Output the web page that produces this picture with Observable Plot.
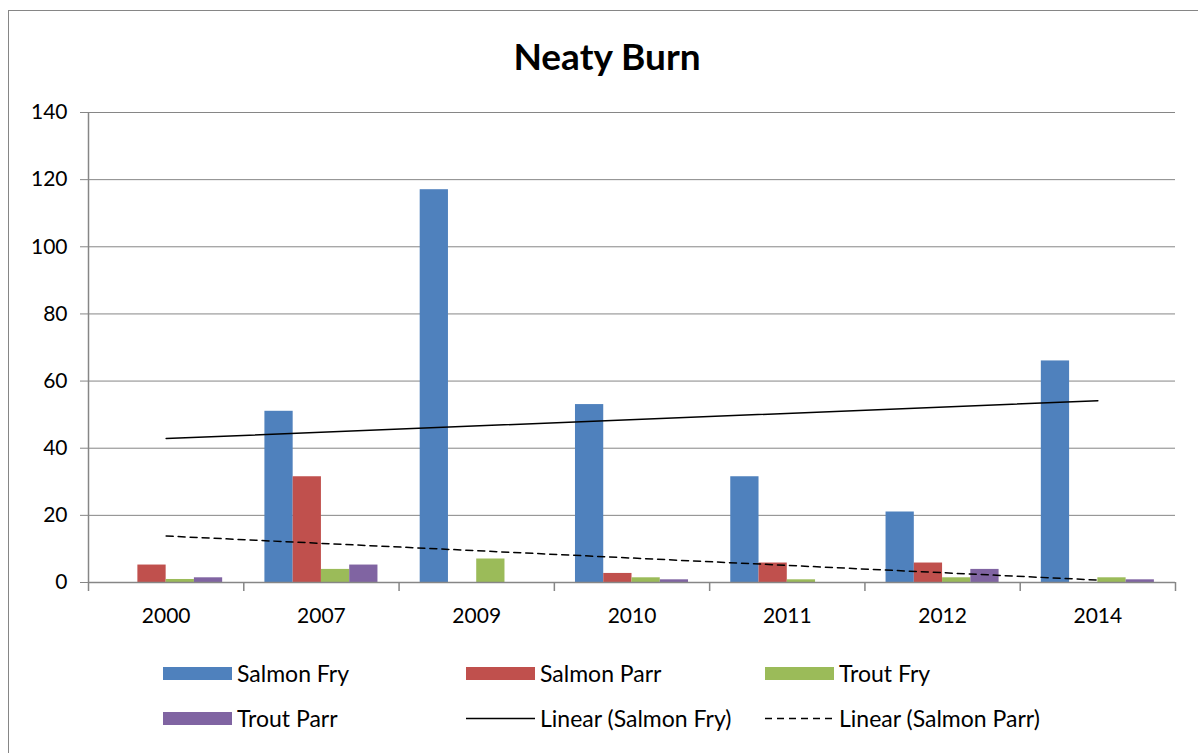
<!DOCTYPE html>
<html>
<head>
<meta charset="utf-8">
<script src="https://cdn.jsdelivr.net/npm/d3@7"></script>
<script src="https://cdn.jsdelivr.net/npm/@observablehq/plot@0.6"></script>
<style>
  html, body { margin: 0; padding: 0; background: #fff; }
  #wrap { position: relative; width: 1198px; height: 753px; overflow: hidden; font-family: Lato, "Open Sans", sans-serif; }
  #frame { position: absolute; left: 8px; top: 10px; width: 1200px; height: 760px; border: 1px solid #868686; box-sizing: border-box; }
  #title { position: absolute; left: 0; top: 33px; width: 1214px; text-align: center; font-weight: bold; font-size: 37px; color: #000; }
  #chart { position: absolute; left: 0; top: 0; }
  .leg { position: absolute; font-size: 23px; color: #000; display: flex; align-items: center; white-space: nowrap; }
  .sw { display: inline-block; width: 69px; height: 13px; margin-right: 5px; }
  .leg svg { margin-right: 5px; }
</style>
</head>
<body>
<div id="wrap">
  <div id="frame"></div>
  <div id="title">Neaty Burn</div>
  <div id="chart"></div>
  <div id="legend"></div>
</div>
<script>
const years = ["2000", "2007", "2009", "2010", "2011", "2012", "2014"];
const series = ["Salmon Fry", "Salmon Parr", "Trout Fry", "Trout Parr"];
const colors = ["#4F81BD", "#C0504D", "#9BBB59", "#8064A2"];
const salmonFry  = [0, 51, 117, 53, 31.5, 21, 66];
const salmonParr = [5.2, 31.5, 0, 2.7, 5.8, 5.8, 0];
const troutFry   = [0.9, 3.9, 7, 1.4, 0.8, 1.4, 1.4];
const troutParr  = [1.4, 5.2, 0, 0.8, 0, 3.9, 0.8];
const yTicks = [0, 20, 40, 60, 80, 100, 120, 140];

const values = [salmonFry, salmonParr, troutFry, troutParr];
const barW = 0.182;
const data = [];
series.forEach((s, si) => {
  values[si].forEach((v, i) => {
    const x1 = (i + 1) - 2 * barW + si * barW;
    data.push({series: s, idx: i + 1, value: v, x1, x2: x1 + barW});
  });
});

const idxs = years.map((_, i) => i + 1);
const bounds = d3.range(0.5, years.length + 1, 1);

const chart = Plot.plot({
  width: 1198,
  height: 640,
  marginLeft: 88,
  marginRight: 23,
  marginTop: 112,
  marginBottom: 58,
  style: {fontFamily: "Lato, 'Open Sans', sans-serif", fontSize: "21px", color: "#000", background: "transparent"},
  x: {type: "linear", domain: [0.5, years.length + 0.5]},
  y: {domain: [0, 140]},
  color: {domain: series, range: colors},
  marks: [
    Plot.ruleY(yTicks, {stroke: "#868686", strokeWidth: 1}),
    Plot.axisY(yTicks, {tickSize: 8, stroke: "#868686", tickPadding: 13, fontSize: 21, label: null, fill: "#000"}),
    Plot.rectY(data, {x1: "x1", x2: "x2", y: "value", fill: "series"}),
    Plot.ruleX([0.5], {stroke: "#868686", strokeWidth: 1.5}),
    Plot.ruleY([0], {stroke: "#868686", strokeWidth: 1.5}),
    Plot.axisX(bounds, {tickSize: 9, stroke: "#868686", strokeWidth: 1.5, tickFormat: () => "", label: null}),
    Plot.axisX(idxs, {tickSize: 0, tickPadding: 26, tickFormat: d => years[d - 1], fontSize: 21, label: null, fill: "#000"}),
    Plot.linearRegressionY(data.filter(d => d.series === "Salmon Fry"), {x: "idx", y: "value", ci: 0, stroke: "#000", strokeWidth: 1.5}),
    Plot.linearRegressionY(data.filter(d => d.series === "Salmon Parr"), {x: "idx", y: "value", ci: 0, stroke: "#000", strokeWidth: 1.5, strokeDasharray: "7,5"})
  ]
});
document.getElementById("chart").appendChild(chart);

const legendItems = [
  {label: "Salmon Fry", type: "sw", color: colors[0], left: 163, top: 659},
  {label: "Salmon Parr", type: "sw", color: colors[1], left: 466, top: 659},
  {label: "Trout Fry", type: "sw", color: colors[2], left: 765, top: 659},
  {label: "Trout Parr", type: "sw", color: colors[3], left: 163, top: 704},
  {label: "Linear (Salmon Fry)", type: "solid", left: 466, top: 704},
  {label: "Linear (Salmon Parr)", type: "dash", left: 765, top: 704}
];
const legend = document.getElementById("legend");
legendItems.forEach(it => {
  const div = document.createElement("div");
  div.className = "leg";
  div.style.left = it.left + "px";
  div.style.top = it.top + "px";
  if (it.type === "sw") {
    const m = document.createElement("span");
    m.className = "sw"; m.style.background = it.color;
    div.appendChild(m);
  } else {
    const svg = d3.create("svg").attr("width", 69).attr("height", 13);
    svg.append("line").attr("x1", 0).attr("x2", 69).attr("y1", 6.5).attr("y2", 6.5)
      .attr("stroke", "#000").attr("stroke-width", 1.5)
      .attr("stroke-dasharray", it.type === "dash" ? "7,5" : null);
    div.appendChild(svg.node());
  }
  const t = document.createElement("span");
  t.textContent = it.label;
  div.appendChild(t);
  legend.appendChild(div);
});
</script>
</body>
</html>
